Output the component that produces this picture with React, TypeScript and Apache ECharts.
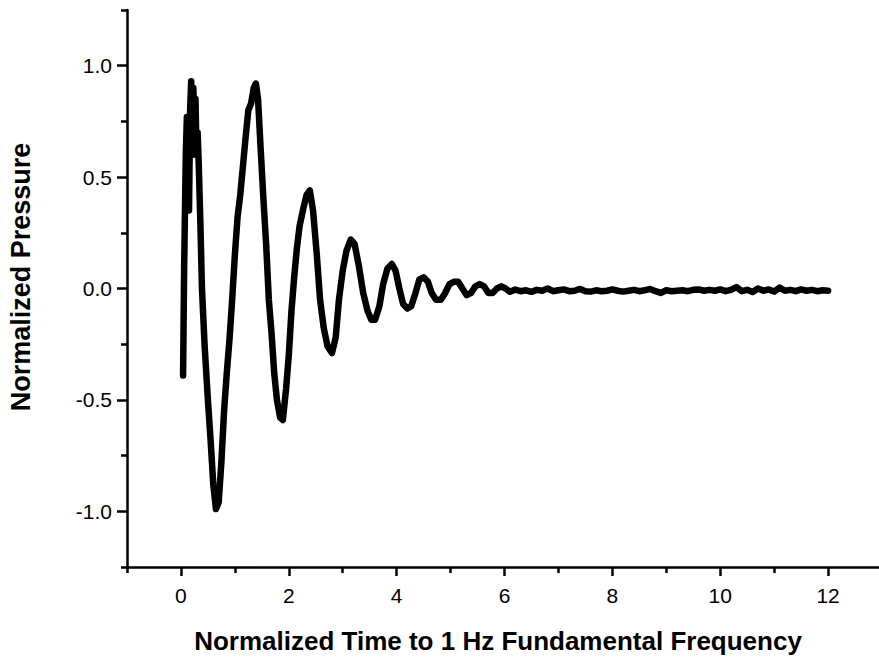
import React, { useEffect, useRef } from "react";
import * as echarts from "echarts";

// Normalized time (x) and normalized pressure (y)
const timeValues = [
  0.04, 0.06, 0.09, 0.11, 0.13, 0.15, 0.17, 0.19, 0.21, 0.23, 0.25, 0.27, 0.29, 0.31, 0.33, 0.36,
  0.39, 0.44, 0.50, 0.55, 0.60, 0.65, 0.70, 0.75, 0.80, 0.85, 0.90, 0.95, 1.00, 1.05, 1.10, 1.15,
  1.20, 1.25, 1.30, 1.35, 1.39, 1.43, 1.48, 1.53, 1.58, 1.63, 1.68, 1.73, 1.78, 1.84, 1.89, 1.95,
  2.00, 2.05, 2.10, 2.15, 2.20, 2.27, 2.33, 2.39, 2.45, 2.52, 2.58, 2.65, 2.72, 2.80, 2.87, 2.93,
  3.00, 3.07, 3.15, 3.22, 3.30, 3.38, 3.46, 3.53, 3.60, 3.68, 3.75, 3.83, 3.91, 3.98, 4.05, 4.12,
  4.20, 4.27, 4.35, 4.42, 4.50, 4.58, 4.65, 4.73, 4.82, 4.90, 4.98, 5.06, 5.14, 5.22, 5.30, 5.38,
  5.46, 5.54, 5.62, 5.70, 5.78, 5.86, 5.94, 6.02, 6.10, 6.20, 6.30, 6.40, 6.50, 6.60, 6.70, 6.80,
  6.90, 7.00, 7.10, 7.20, 7.30, 7.40, 7.50, 7.60, 7.70, 7.80, 7.90, 8.00, 8.10, 8.20, 8.30, 8.40,
  8.50, 8.60, 8.70, 8.80, 8.90, 9.00, 9.10, 9.20, 9.30, 9.40, 9.50, 9.60, 9.70, 9.80, 9.90, 10.00,
  10.10, 10.20, 10.30, 10.40, 10.50, 10.60, 10.70, 10.80, 10.90, 11.00, 11.10, 11.20, 11.30, 11.40,
  11.50, 11.60, 11.70, 11.80, 11.90, 12.00,
];
const pressureValues = [
  -0.39, 0.10, 0.60, 0.77, 0.50, 0.35, 0.80, 0.93, 0.60, 0.90, 0.75, 0.85, 0.60, 0.70, 0.56, 0.30,
  0.00, -0.26, -0.50, -0.68, -0.88, -0.99, -0.96, -0.78, -0.55, -0.38, -0.23, -0.05, 0.15, 0.32, 0.42, 0.55,
  0.68, 0.80, 0.83, 0.90, 0.92, 0.85, 0.62, 0.40, 0.20, -0.05, -0.20, -0.38, -0.50, -0.58, -0.59, -0.45,
  -0.30, -0.10, 0.05, 0.18, 0.28, 0.36, 0.42, 0.44, 0.35, 0.15, -0.05, -0.18, -0.26, -0.29, -0.22, -0.05,
  0.08, 0.17, 0.22, 0.20, 0.10, -0.02, -0.10, -0.14, -0.14, -0.08, 0.02, 0.09, 0.11, 0.08, 0.00, -0.07,
  -0.09, -0.08, -0.02, 0.04, 0.05, 0.03, -0.02, -0.05, -0.05, -0.02, 0.02, 0.03, 0.03, 0.00, -0.03, -0.02,
  0.01, 0.02, 0.01, -0.02, -0.02, 0.00, 0.01, 0.00, -0.015, -0.005, -0.012, -0.008, -0.015, -0.006, -0.010, 0.000,
  -0.012, -0.008, -0.004, -0.012, -0.010, -0.002, -0.012, -0.014, -0.008, -0.012, -0.010, -0.004, -0.010, -0.014, -0.010, -0.006,
  -0.012, -0.008, -0.002, -0.012, -0.020, -0.008, -0.012, -0.010, -0.008, -0.012, -0.006, -0.004, -0.010, -0.006, -0.010, -0.004,
  -0.012, -0.006, 0.006, -0.012, -0.006, -0.016, 0.000, -0.010, -0.004, -0.014, 0.004, -0.010, -0.006, -0.012,
  -0.004, -0.010, -0.006, -0.012, -0.008, -0.010,
];

const xMajorTicks = [0, 2, 4, 6, 8, 10, 12];
const xMinorTicks = [-1, 1, 3, 5, 7, 9, 11, 13];
const yMajorTicks = [-1.0, -0.5, 0.0, 0.5, 1.0];
const yMinorTicks = [-1.25, -0.75, -0.25, 0.25, 0.75, 1.25];

const xTitle = "Normalized Time to 1 Hz Fundamental Frequency";
const yTitle = "Normalized Pressure";

const FONT = "'Liberation Sans', Arial, sans-serif";

export default function App() {
  const ref = useRef<HTMLDivElement>(null);

  useEffect(() => {
    if (!ref.current) return;
    const chart = echarts.init(ref.current, undefined, { renderer: "svg" });
    const lineStyle = { color: "#000", width: 2.5 };
    const option = {
      animation: false,
      backgroundColor: "#fff",
      grid: {
        left: 127,
        top: 10,
        right: -3,
        bottom: 94,
        containLabel: false,
        outerBoundsMode: "none",
      },
      xAxis: [
        {
          type: "value",
          min: -1,
          max: 13,
          interval: 1,
          position: "bottom",
          axisLine: { show: true, onZero: false, lineStyle },
          axisTick: { show: true, inside: false, length: 9, lineStyle, customValues: xMajorTicks },
          axisLabel: {
            show: true,
            margin: 18,
            fontFamily: FONT,
            fontSize: 21,
            color: "#000",
            customValues: xMajorTicks,
            formatter: (v: number) => String(v),
          },
          splitLine: { show: false },
        },
        {
          type: "value",
          min: -1,
          max: 13,
          interval: 1,
          position: "bottom",
          axisLine: { show: false, onZero: false },
          axisTick: { show: true, inside: false, length: 6, lineStyle, customValues: xMinorTicks },
          axisLabel: { show: false },
          splitLine: { show: false },
        },
      ],
      yAxis: [
        {
          type: "value",
          min: -1.25,
          max: 1.25,
          interval: 0.25,
          position: "left",
          axisLine: { show: true, onZero: false, lineStyle },
          axisTick: { show: true, inside: false, length: 10, lineStyle, customValues: yMajorTicks },
          axisLabel: {
            show: true,
            margin: 15,
            fontFamily: FONT,
            fontSize: 21,
            color: "#000",
            customValues: yMajorTicks,
            formatter: (v: number) => v.toFixed(1),
          },
          splitLine: { show: false },
        },
        {
          type: "value",
          min: -1.25,
          max: 1.25,
          interval: 0.25,
          position: "left",
          axisLine: { show: false, onZero: false },
          axisTick: { show: true, inside: false, length: 6, lineStyle, customValues: yMinorTicks },
          axisLabel: { show: false },
          splitLine: { show: false },
        },
      ],
      graphic: [
        {
          type: "text",
          x: 498,
          y: 641,
          style: {
            text: xTitle,
            fontFamily: FONT,
            fontSize: 26,
            fontWeight: "bold",
            fill: "#000",
            align: "center",
            verticalAlign: "middle",
          },
        },
        {
          type: "text",
          x: 21,
          y: 277,
          rotation: Math.PI / 2,
          style: {
            text: yTitle,
            fontFamily: FONT,
            fontSize: 27,
            fontWeight: "bold",
            fill: "#000",
            align: "center",
            verticalAlign: "middle",
          },
        },
      ],
      series: [
        {
          type: "line",
          xAxisIndex: 0,
          yAxisIndex: 0,
          data: timeValues.map((t, i) => [t, pressureValues[i]]),
          showSymbol: false,
          symbol: "none",
          smooth: false,
          lineStyle: { color: "#000", width: 6.5, join: "round", cap: "round" },
          silent: true,
        },
      ],
    };
    chart.setOption(option as any);
    return () => chart.dispose();
  }, []);

  return (
    <div
      ref={ref}
      style={{ position: "absolute", left: 0, top: 0, width: 879, height: 661, background: "#fff" }}
    />
  );
}
